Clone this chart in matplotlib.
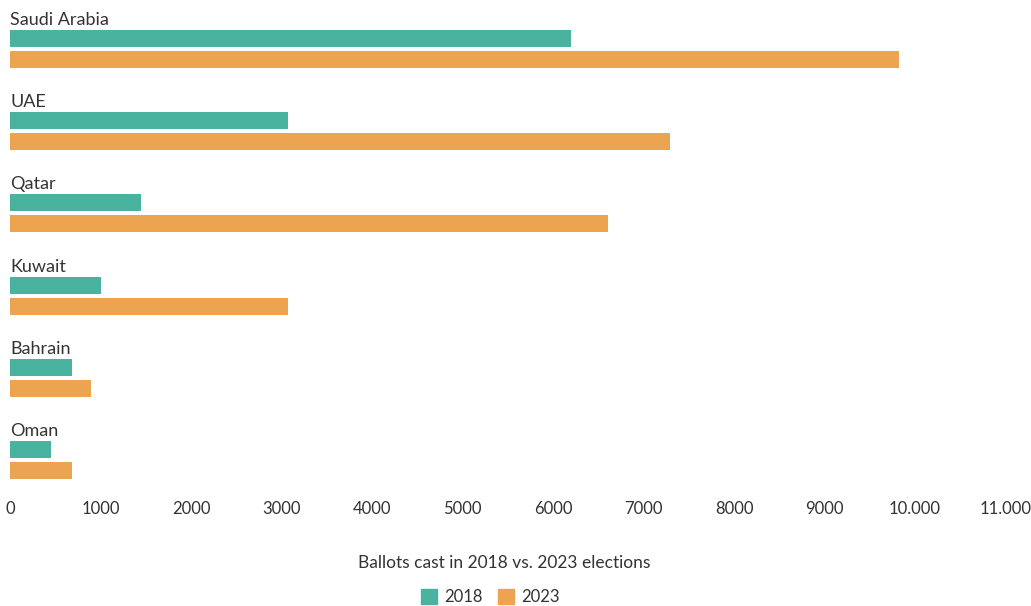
import matplotlib
matplotlib.use("Agg")
import matplotlib.pyplot as plt
from matplotlib.patches import Patch

countries = ["Saudi Arabia", "UAE", "Qatar", "Kuwait", "Bahrain", "Oman"]
ballots_2018 = [6200, 3070, 1450, 1005, 685, 455]
ballots_2023 = [9820, 7290, 6610, 3070, 895, 685]
tick_values = [0, 1000, 2000, 3000, 4000, 5000, 6000, 7000, 8000, 9000, 10000, 11000]
tick_labels = ["0", "1000", "2000", "3000", "4000", "5000", "6000", "7000",
               "8000", "9000", "10.000", "11.000"]
series_names = ["2018", "2023"]

TEAL = "#49B3A0"
ORANGE = "#EDA450"
TEXT = "#333333"

plt.rcParams["font.family"] = ["Lato", "DejaVu Sans"]

W, H = 1031, 606
fig = plt.figure(figsize=(W / 100, H / 100), dpi=100)

# axes in pixel terms: left 10, width 1000, top 0, bottom 480
group_px = 82.2
ax = fig.add_axes([10 / W, (H - 480) / H, 1000 / W, 480 / H])
ax.set_xlim(0, 1000 / 90.5 * 1000)
ax.set_ylim(480 / group_px, 0)

bar_h = 17 / group_px
for i, name in enumerate(countries):
    y18 = 38.5 / group_px + i
    y23 = 59.5 / group_px + i
    ax.barh(y18, ballots_2018[i], height=bar_h, color=TEAL, left=0)
    ax.barh(y23, ballots_2023[i], height=bar_h, color=ORANGE, left=0)
    ax.text(0, 25 / group_px + i, name, fontsize=13, color=TEXT,
            va="baseline", ha="left")

ax.set_xticks(tick_values)
ax.set_xticklabels(tick_labels)
ax.tick_params(axis="x", length=0, pad=15, labelsize=12, labelcolor=TEXT)
ax.set_yticks([])
for s in ax.spines.values():
    s.set_visible(False)

fig.text(504 / W, 1 - 563 / H, "Ballots cast in 2018 vs. 2023 elections",
         ha="center", va="center", fontsize=12.5, color=TEXT)

handles = [Patch(color=TEAL), Patch(color=ORANGE)]
fig.legend(handles, series_names, loc="center", bbox_to_anchor=(490 / W, 1 - 597 / H),
           ncol=2, frameon=False, fontsize=12, handlelength=1.0, handleheight=1.0,
           handletextpad=0.4, columnspacing=0.9, labelcolor=TEXT)

fig.savefig("out.png", dpi=100, facecolor="white")
